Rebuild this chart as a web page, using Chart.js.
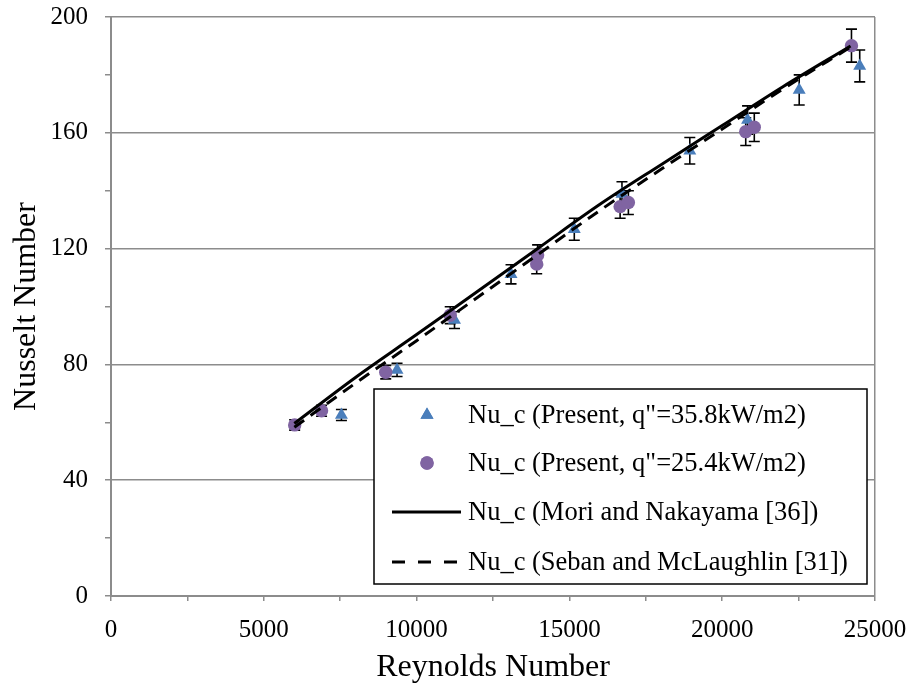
<!DOCTYPE html>
<html><head><meta charset="utf-8">
<script src="https://cdn.jsdelivr.net/npm/chart.js@4.4.0/dist/chart.umd.min.js"></script>
<style>html,body{margin:0;padding:0;background:#fff;}#wrap{width:911px;height:687px;}</style>
</head><body><div id="wrap"><canvas id="c" width="911" height="687"></canvas></div>
<script>
// ---- data ----
const triRe  = [7540, 9360, 11240, 13090, 15160, 16720, 18940, 20830, 22520, 24500];
const triNu  = [62.5, 78.1, 95.3, 111.1, 126.7, 138.9, 153.8, 164.4, 174.8, 183.1];
const triErr = [1.9, 2.3, 2.9, 3.3, 3.8, 4.2, 4.6, 4.9, 5.2, 5.5];

const cirRe  = [6010, 6890, 8990, 11100, 13930, 13960, 16660, 16930, 20770, 21050, 24230];
const cirNu  = [59.1, 64.0, 77.3, 97.0, 114.7, 117.8, 134.5, 135.9, 160.4, 161.9, 190.1];
const cirErr = [1.8, 1.9, 2.3, 2.9, 3.4, 3.5, 4.0, 4.1, 4.8, 4.9, 5.7];

const moriRe = [6000, 8000, 10000, 12000, 14000, 16000, 18000, 20000, 22000, 24200];
const moriNu = [59.6, 75.5, 90.3, 105.3, 120.3, 135.3, 149.0, 162.5, 176.0, 190.0];

const sebanRe = [6000, 8000, 10000, 12000, 14000, 16000, 18000, 20000, 22000, 24200];
const sebanNu = [58.3, 73.5, 88.2, 103.2, 118.2, 133.2, 147.4, 161.3, 175.2, 189.6];

const labels = [
  'Nu_c (Present, q"=35.8kW/m2)',
  'Nu_c (Present, q"=25.4kW/m2)',
  'Nu_c (Mori and Nakayama [36])',
  'Nu_c (Seban and McLaughlin [31])'
];
const xTickLabels = [0, 5000, 10000, 15000, 20000, 25000];
const yTickLabels = [0, 40, 80, 120, 160, 200];

// ---- build ----
const pts = (xs, ys) => xs.map((x, i) => ({x: x, y: ys[i]}));
const SERIF = "'Liberation Serif', 'Times New Roman', serif";
const GRID = '#8c8c8c';
const BLUE = '#4a7ebb';
const PURPLE = '#8064a2';

const datasets = [
  {label: labels[0], data: pts(triRe, triNu), errors: triErr, showLine: false,
   pointStyle: 'triangle', pointRadius: 7.5, pointBackgroundColor: BLUE, pointBorderWidth: 0,
   backgroundColor: BLUE, borderColor: BLUE, order: 3},
  {label: labels[1], data: pts(cirRe, cirNu), errors: cirErr, showLine: false,
   pointStyle: 'circle', pointRadius: 6.7, pointBackgroundColor: PURPLE, pointBorderWidth: 0,
   backgroundColor: PURPLE, borderColor: PURPLE, order: 2},
  {label: labels[2], data: pts(moriRe, moriNu), showLine: true, borderColor: '#000',
   borderWidth: 3, pointRadius: 0, cubicInterpolationMode: 'monotone', fill: false, order: 0},
  {label: labels[3], data: pts(sebanRe, sebanNu), showLine: true, borderColor: '#000',
   borderWidth: 3, borderDash: [12, 8], pointRadius: 0, cubicInterpolationMode: 'monotone', fill: false, order: 1}
];

const errorBars = {
  id: 'errorBars',
  beforeDatasetsDraw(chart) {
    const ctx = chart.ctx, xs = chart.scales.x, ys = chart.scales.y;
    ctx.save();
    ctx.strokeStyle = '#000';
    ctx.lineWidth = 1.6;
    chart.data.datasets.forEach(ds => {
      if (!ds.errors) return;
      ds.data.forEach((p, i) => {
        const x = xs.getPixelForValue(p.x);
        const yt = ys.getPixelForValue(p.y + ds.errors[i]);
        const yb = ys.getPixelForValue(p.y - ds.errors[i]);
        const w = 5.5;
        ctx.beginPath();
        ctx.moveTo(x, yt); ctx.lineTo(x, yb);
        ctx.moveTo(x - w, yt); ctx.lineTo(x + w, yt);
        ctx.moveTo(x - w, yb); ctx.lineTo(x + w, yb);
        ctx.stroke();
      });
    });
    ctx.restore();
  }
};

const boxLegend = {
  id: 'boxLegend',
  afterDraw(chart) {
    const ctx = chart.ctx;
    const L = 374, T = 389, R = 867, B = 584;
    const rows = [415, 463, 512, 562];
    ctx.save();
    ctx.fillStyle = '#fff';
    ctx.fillRect(L, T, R - L, B - T);
    ctx.strokeStyle = '#000';
    ctx.lineWidth = 1.5;
    ctx.strokeRect(L, T, R - L, B - T);
    chart.data.datasets.forEach((ds, i) => {
      const y = rows[i];
      if (ds.showLine) {
        ctx.save();
        ctx.strokeStyle = ds.borderColor;
        ctx.lineWidth = ds.borderWidth;
        ctx.setLineDash(ds.borderDash ? [13, 13] : []);
        ctx.beginPath();
        ctx.moveTo(392, y); ctx.lineTo(461, y);
        ctx.stroke();
        ctx.restore();
      } else {
        ctx.fillStyle = ds.pointBackgroundColor;
        Chart.helpers.drawPoint(ctx, {pointStyle: ds.pointStyle, radius: ds.pointRadius, borderWidth: 0, rotation: 0}, 427, y);
        ctx.fill();
      }
      ctx.fillStyle = '#000';
      ctx.font = '26.5px ' + SERIF;
      ctx.textBaseline = 'middle';
      ctx.textAlign = 'left';
      ctx.fillText(ds.label, 468, y + 1);
    });
    ctx.restore();
  }
};

new Chart(document.getElementById('c'), {
  type: 'scatter',
  data: {datasets: datasets},
  plugins: [errorBars, boxLegend],
  options: {
    responsive: false,
    animation: false,
    devicePixelRatio: 1,
    layout: {padding: {left: 0, right: 36, top: 17, bottom: 0}},
    plugins: {legend: {display: false}, tooltip: {enabled: false}},
    scales: {
      x: {
        type: 'linear', min: 0, max: 25000,
        afterFit(s) { s.height = 91; s.paddingLeft = 0; s.paddingRight = 0; },
        border: {color: GRID, width: 2},
        grid: {
          color: c => (c.tick && c.tick.value === 25000) ? GRID : 'rgba(0,0,0,0)',
          tickColor: GRID, lineWidth: 1.5, tickLength: 5
        },
        ticks: {
          stepSize: 2500, maxRotation: 0, autoSkip: false,
          callback: v => xTickLabels.includes(v) ? String(v) : '',
          font: {family: SERIF, size: 25}, color: '#000', padding: 14
        },
        title: {display: true, text: 'Reynolds Number', font: {family: SERIF, size: 32},
                color: '#000', padding: {top: 0, bottom: 0}}
      },
      y: {
        type: 'linear', min: 0, max: 200,
        afterFit(s) { s.width = 111; s.paddingTop = 0; s.paddingBottom = 0; },
        border: {color: GRID, width: 2},
        grid: {
          color: c => (c.tick && yTickLabels.includes(c.tick.value)) ? GRID : 'rgba(0,0,0,0)',
          tickColor: GRID, lineWidth: 1.5, tickLength: 6
        },
        ticks: {
          stepSize: 20, autoSkip: false,
          callback: v => yTickLabels.includes(v) ? String(v) : '',
          font: {family: SERIF, size: 25}, color: '#000', padding: 17
        },
        title: {display: true, text: 'Nusselt Number', font: {family: SERIF, size: 32},
                color: '#000', padding: {top: 7, bottom: 0}}
      }
    }
  }
});
</script></body></html>
